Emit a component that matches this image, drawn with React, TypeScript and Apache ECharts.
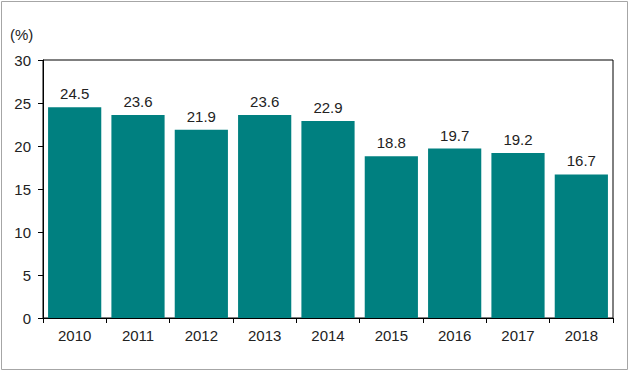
import React, { useEffect, useRef } from "react";
import * as echarts from "echarts";

const categories = ["2010", "2011", "2012", "2013", "2014", "2015", "2016", "2017", "2018"];
const values = [24.5, 23.6, 21.9, 23.6, 22.9, 18.8, 19.7, 19.2, 16.7];
const yUnit = "(%)";

export default function App() {
  const ref = useRef<HTMLDivElement>(null);
  useEffect(() => {
    document.body.style.margin = "0";
    const chart = echarts.init(ref.current!, null, { renderer: "svg" });
    const font = "'Liberation Sans', Arial, sans-serif";
    chart.setOption({
      animation: false,
      backgroundColor: "#ffffff",
      graphic: [
        {
          type: "rect",
          shape: { x: 1.5, y: 1.5, width: 626, height: 368 },
          style: { fill: "none", stroke: "#a6a6a6", lineWidth: 1 },
          silent: true,
        },
        {
          type: "text",
          left: 10,
          top: 27,
          style: { text: yUnit, fontSize: 15, fontFamily: font, fill: "#222" },
        },
      ],
      grid: {
        left: 43,
        top: 60,
        right: 17,
        bottom: 55,
        show: true,
        borderColor: "#000",
        borderWidth: 1,
      },
      xAxis: {
        type: "category",
        data: categories,
        axisLine: { lineStyle: { color: "#000" } },
        axisTick: { show: true, length: 5, lineStyle: { color: "#000" } },
        axisLabel: { fontSize: 15, fontFamily: font, color: "#222", margin: 10 },
      },
      yAxis: {
        type: "value",
        min: 0,
        max: 30,
        interval: 5,
        axisLine: { show: true, lineStyle: { color: "#000" } },
        axisTick: { show: true, length: 5, lineStyle: { color: "#000" } },
        splitLine: { show: false },
        axisLabel: { fontSize: 15, fontFamily: font, color: "#222", margin: 12 },
      },
      series: [
        {
          type: "bar",
          data: values,
          barCategoryGap: "16%",
          itemStyle: { color: "#008080" },
          label: {
            show: true,
            position: "top",
            distance: 6,
            fontSize: 15,
            fontFamily: font,
            color: "#222",
            formatter: (p: any) => p.value.toFixed(1),
          },
        },
      ],
    });
    return () => chart.dispose();
  }, []);
  return <div ref={ref} style={{ position: "absolute", left: 0, top: 0, width: 630, height: 373 }} />;
}
